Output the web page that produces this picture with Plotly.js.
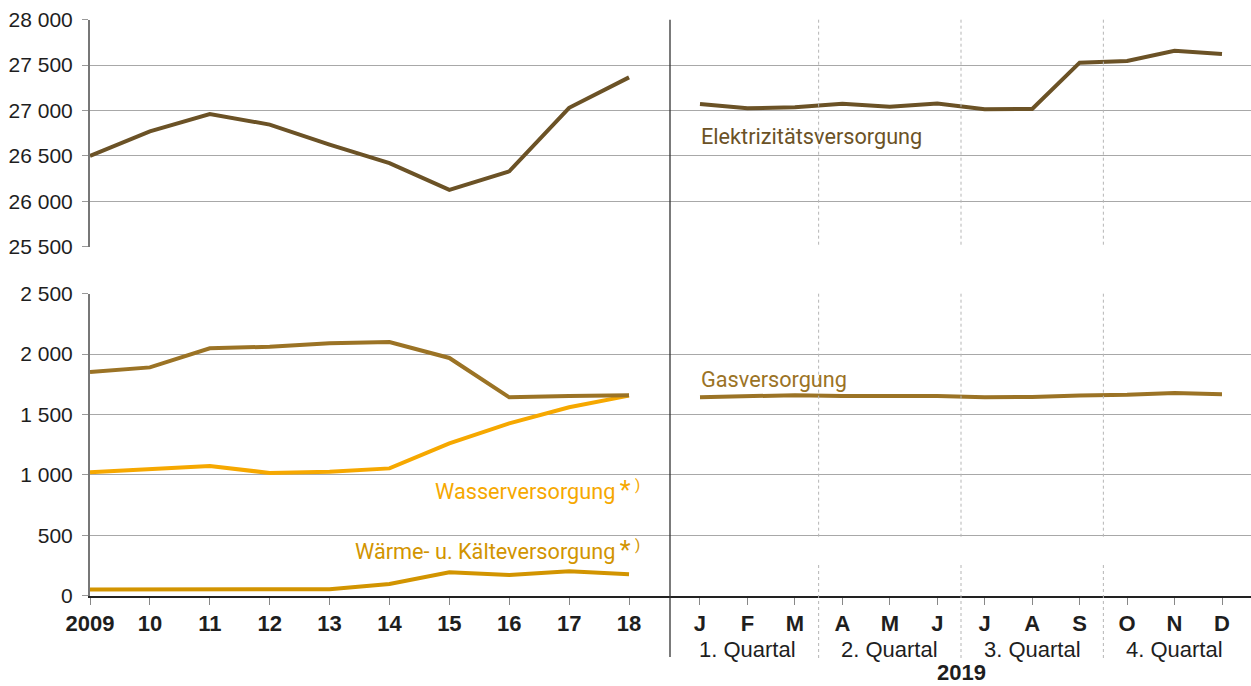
<!DOCTYPE html>
<html>
<head>
<meta charset="utf-8">
<script src="https://cdn.plot.ly/plotly-3.0.1.min.js"></script>
<style>html,body{margin:0;padding:0;background:#fff;}#chart{width:1251px;height:686px;}</style>
</head>
<body>
<div id="chart"></div>
<script>
// ---- data ----
const years = [2009, 2010, 2011, 2012, 2013, 2014, 2015, 2016, 2017, 2018];
const yearLabels = ['2009', '10', '11', '12', '13', '14', '15', '16', '17', '18'];
const months = [0, 1, 2, 3, 4, 5, 6, 7, 8, 9, 10, 11];
const monthLabels = ['J', 'F', 'M', 'A', 'M', 'J', 'J', 'A', 'S', 'O', 'N', 'D'];
const quarterLabels = ['1. Quartal', '2. Quartal', '3. Quartal', '4. Quartal'];
const quarterCenters = [1, 4, 7, 10];
const quarterBounds = [2.5, 5.5, 8.5];
const monthYear = '2019';

const elekYear = [26500, 26770, 26960, 26845, 26625, 26420, 26125, 26330, 27030, 27365];
const elekMonth = [27072, 27025, 27035, 27075, 27042, 27078, 27013, 27017, 27527, 27545, 27658, 27622];
const gasYear = [1852, 1890, 2048, 2061, 2090, 2100, 1968, 1642, 1653, 1660];
const gasMonth = [1643, 1651, 1660, 1653, 1655, 1654, 1643, 1645, 1658, 1663, 1677, 1667];
const wasserYear = [1021, 1049, 1074, 1016, 1027, 1054, 1261, 1427, 1560, 1656];
const waermeYear = [52, 53, 55, 54, 54, 97, 194, 172, 202, 178];

const note = '\u2009<span style="font-size:25px">*</span>\u2009<sup>)</sup>';
const names = {
  elek: 'Elektrizitätsversorgung',
  gas: 'Gasversorgung',
  wasser: 'Wasserversorgung' + note,
  waerme: 'Wärme- u. Kälteversorgung' + note
};
const colors = { elek: '#6b5226', gas: '#9b7325', wasser: '#f6a800', waerme: '#d29400' };

// ---- layout helpers ----
const W = 1251, H = 686;
const px = v => v / W;
const py = v => 1 - v / H;

const lw = 4;
const traces = [
  { x: years, y: elekYear, xaxis: 'x', yaxis: 'y', mode: 'lines', line: { color: colors.elek, width: lw }, hoverinfo: 'skip' },
  { x: months, y: elekMonth, xaxis: 'x2', yaxis: 'y', mode: 'lines', line: { color: colors.elek, width: lw }, hoverinfo: 'skip' },
  { x: years, y: waermeYear, xaxis: 'x', yaxis: 'y2', mode: 'lines', line: { color: colors.waerme, width: lw }, hoverinfo: 'skip' },
  { x: years, y: wasserYear, xaxis: 'x', yaxis: 'y2', mode: 'lines', line: { color: colors.wasser, width: lw }, hoverinfo: 'skip' },
  { x: years, y: gasYear, xaxis: 'x', yaxis: 'y2', mode: 'lines', line: { color: colors.gas, width: lw }, hoverinfo: 'skip' },
  { x: months, y: gasMonth, xaxis: 'x2', yaxis: 'y2', mode: 'lines', line: { color: colors.gas, width: lw }, hoverinfo: 'skip' }
];

const FAM = 'Liberation Sans, Arial, sans-serif';
const tickFont = { family: FAM, size: 21, color: '#1e1e1e' };
const boldTick = { family: FAM, size: 22, color: '#1e1e1e', weight: 'bold' };
const gridColor = '#a8a8a8';

const yCommon = {
  anchor: 'x', showgrid: true, gridcolor: gridColor, gridwidth: 1, zeroline: false,
  showline: true, linecolor: '#777', linewidth: 2,
  ticks: 'outside', ticklen: 6, tickcolor: '#999', tickwidth: 1, ticklabelstandoff: 5,
  tickfont: tickFont, dtick: 500, separatethousands: true, tickformat: ',d', fixedrange: true
};
const xCommon = {
  anchor: 'y2', showgrid: false, zeroline: false,
  showline: true, linecolor: '#222', linewidth: 2,
  ticks: 'outside', ticklen: 7, tickcolor: '#888', tickwidth: 1,
  tickfont: boldTick, tickmode: 'array', fixedrange: true
};

const layout = {
  width: W, height: H,
  margin: { l: 0, r: 0, t: 0, b: 0 },
  paper_bgcolor: '#fff', plot_bgcolor: 'rgba(0,0,0,0)',
  showlegend: false,
  separators: ', ',
  xaxis: Object.assign({}, xCommon, {
    domain: [px(90), px(670)], range: [2009, 2018.684],
    tickvals: years, ticktext: yearLabels
  }),
  xaxis2: Object.assign({}, xCommon, {
    domain: [px(670), 1], range: [-0.632, 11.611],
    tickvals: months, ticktext: monthLabels
  }),
  yaxis: Object.assign({}, yCommon, { domain: [py(246.7), py(19.7)], range: [25500, 28000] }),
  yaxis2: Object.assign({}, yCommon, { domain: [py(595.7), py(293.7)], range: [0, 2500] }),
  shapes: [],
  annotations: []
};

// separator between annual and monthly parts
layout.shapes.push({ type: 'line', xref: 'paper', yref: 'paper', x0: px(670), x1: px(670), y0: py(19.7), y1: py(657), line: { color: '#333', width: 1.3 } });
// dotted quarter boundaries
const segs = [[19.7, 246.7], [293.7, 538], [565, 660]];
quarterBounds.forEach(b => {
  segs.forEach(s => {
    layout.shapes.push({ type: 'line', xref: 'x2', yref: 'paper', x0: b, x1: b, y0: py(s[0]), y1: py(s[1]), line: { color: '#b5b5b5', width: 1, dash: 'dot' } });
  });
});

// quarter labels
quarterLabels.forEach((q, i) => {
  layout.annotations.push({ xref: 'x2', yref: 'paper', x: quarterCenters[i], y: py(649), text: q, showarrow: false, xanchor: 'center', yanchor: 'middle', font: { family: FAM, size: 22, color: '#1e1e1e' } });
});
layout.annotations.push({ xref: 'x2', yref: 'paper', x: 5.5, y: py(672), text: monthYear, showarrow: false, xanchor: 'center', yanchor: 'middle', font: { family: FAM, size: 22, color: '#1e1e1e', weight: 'bold' } });

// series labels
const labFont = c => ({ family: 'Roboto, Liberation Sans, sans-serif', size: 21.7, color: c });
layout.annotations.push({ xref: 'paper', yref: 'paper', x: px(699), y: py(136), text: names.elek, showarrow: false, xanchor: 'left', yanchor: 'middle', font: labFont(colors.elek) });
layout.annotations.push({ xref: 'paper', yref: 'paper', x: px(699), y: py(379), text: names.gas, showarrow: false, xanchor: 'left', yanchor: 'middle', font: labFont(colors.gas) });
layout.annotations.push({ xref: 'paper', yref: 'paper', x: px(642), y: py(490), text: names.wasser, showarrow: false, xanchor: 'right', yanchor: 'middle', font: labFont(colors.wasser) });
layout.annotations.push({ xref: 'paper', yref: 'paper', x: px(642), y: py(550), text: names.waerme, showarrow: false, xanchor: 'right', yanchor: 'middle', font: labFont(colors.waerme) });

Plotly.newPlot('chart', traces, layout, { staticPlot: true, displayModeBar: false });
</script>
</body>
</html>
